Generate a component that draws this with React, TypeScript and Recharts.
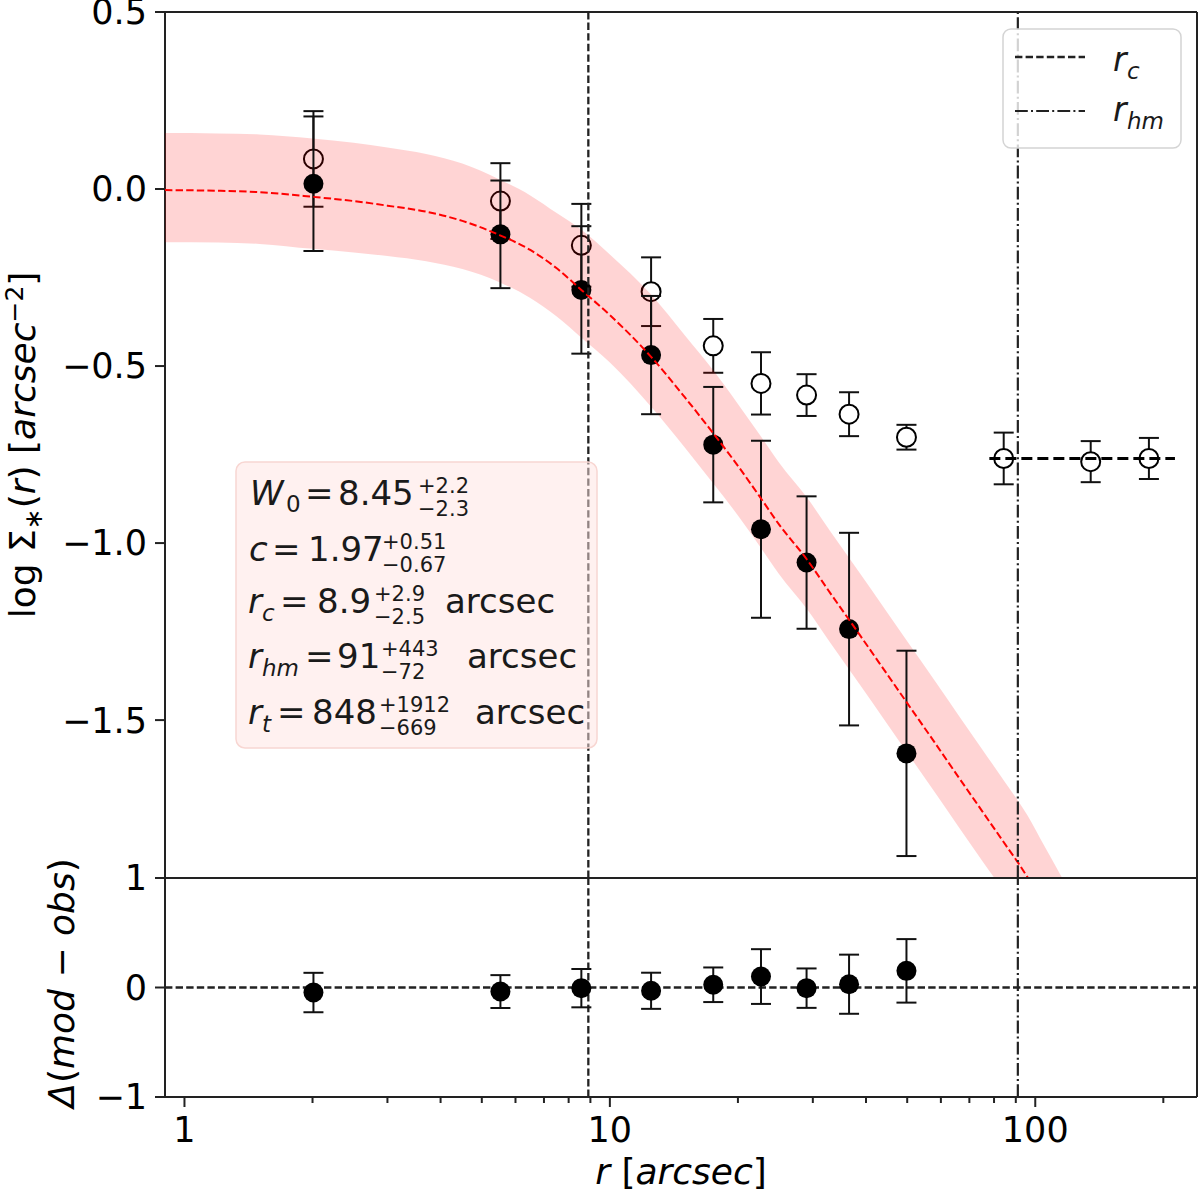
import React from "react";
import {
  ComposedChart,
  Scatter,
  ErrorBar,
  Line,
  Area,
  XAxis,
  YAxis,
  ReferenceLine,
} from "recharts";

const FONT = "'DejaVu Sans', Verdana, sans-serif";
const INK = "#222";

// binned radii [arcsec]
const radii = [2.01, 5.53, 8.57, 12.5, 17.5, 22.66, 29.0, 36.5, 49.8, 84.3, 135, 185];
// all stars (open circles)
const allLogSigma = [0.085, -0.034, -0.159, -0.29, -0.443, -0.549, -0.582, -0.636, -0.701, -0.761, -0.77, -0.761];
const allErr = [0.135, 0.107, 0.117, 0.097, 0.076, 0.088, 0.059, 0.062, 0.035, 0.073, 0.058, 0.058];
// background subtracted (filled circles)
const subLogSigma = [0.015, -0.128, -0.285, -0.469, -0.722, -0.961, -1.055, -1.243, -1.594];
const subErr = [0.19, 0.152, 0.18, 0.167, 0.163, 0.25, 0.187, 0.272, 0.29];
// residuals mod - obs
const resid = [-0.046, -0.037, -0.006, -0.03, 0.025, 0.1, -0.006, 0.03, 0.152];
const residErr = [0.18, 0.15, 0.175, 0.165, 0.158, 0.25, 0.18, 0.27, 0.29];

// best-fit model profile and its spread
const modelR = [0.9, 1.2, 1.5, 2, 2.5, 3, 3.7, 4.5, 5.5, 6.5, 7.5, 8.57, 10, 12.5, 15, 17.5, 20, 22.66, 25, 29, 33, 38.6, 44, 50, 58, 66, 75, 85, 91, 96, 105, 115, 125];
const modelLog = [-0.003, -0.005, -0.009, -0.022, -0.034, -0.047, -0.064, -0.09, -0.13, -0.172, -0.224, -0.285, -0.356, -0.474, -0.588, -0.69, -0.782, -0.874, -0.948, -1.045, -1.142, -1.258, -1.356, -1.452, -1.563, -1.661, -1.757, -1.851, -1.902, -1.945, -2.025, null, null];
const bandLow = [-0.15, -0.151, -0.155, -0.169, -0.179, -0.189, -0.204, -0.226, -0.263, -0.308, -0.36, -0.42, -0.49, -0.615, -0.73, -0.832, -0.922, -1.014, -1.088, -1.185, -1.282, -1.398, -1.496, -1.592, -1.703, -1.801, -1.897, -1.99, -2.045, -2.09, -2.17, -2.25, -2.33];
const bandHigh = [0.158, 0.157, 0.154, 0.143, 0.131, 0.117, 0.099, 0.072, 0.027, -0.018, -0.068, -0.115, -0.185, -0.298, -0.413, -0.512, -0.607, -0.699, -0.773, -0.87, -0.967, -1.083, -1.181, -1.277, -1.388, -1.486, -1.582, -1.676, -1.727, -1.77, -1.855, -1.94, -2.02];

const rc = 8.9;
const rhm = 91;
const bgLevel = -0.761;
const bgFrom = 78;
const bgTo = 213;

const xDomain = [0.9, 240];
const topDomain = [-1.946, 0.5];
const botDomain = [-1, 1];
const majorTicks = [1, 10, 100];
const xTicks = [1, 2, 3, 4, 5, 6, 7, 8, 9, 10, 20, 30, 40, 50, 60, 70, 80, 90, 100, 200];
const topYTicks = [0.5, 0, -0.5, -1, -1.5];
const botYTicks = [1, 0, -1];

const openRows = radii.map((r, i) => ({ r, y: allLogSigma[i], err: allErr[i] }));
const subRows = subLogSigma.map((y, i) => ({ r: radii[i], y, err: subErr[i] }));
const residRows = resid.map((y, i) => ({ r: radii[i], y, err: residErr[i] }));
const modelRows = modelR.map((r, i) => ({
  r,
  model: modelLog[i],
  band: [bandLow[i], bandHigh[i]],
}));

const minus = (s: string) => s.replace("-", "\u2212");

const tickStyle = { fontSize: 35, fill: "#000", fontFamily: FONT };

const FilledDot = (p: any) => <circle cx={p.cx} cy={p.cy} r={10} fill="#000" />;
const OpenDot = (p: any) => (
  <circle cx={p.cx} cy={p.cy} r={9.5} fill="#fff" stroke="#000" strokeWidth={2} />
);

const LogTick = (props: any) => {
  const { x, y, payload } = props;
  const major = majorTicks.includes(payload.value);
  return (
    <g>
      <line x1={x} x2={x} y1={y} y2={y + (major ? 10 : 6)} stroke={INK} strokeWidth={2} />
      {major && (
        <text x={x} y={y + 45} textAnchor="middle" fontSize={35} fontFamily={FONT} fill="#000">
          {payload.value}
        </text>
      )}
    </g>
  );
};

const frame = { stroke: INK, strokeWidth: 2 };

function TopPanel() {
  return (
    <ComposedChart width={1200} height={890} margin={{ top: 12, right: 3, bottom: 12, left: 0 }}>
      <XAxis
        dataKey="r"
        type="number"
        scale="log"
        domain={xDomain}
        allowDataOverflow
        ticks={xTicks}
        tick={false}
        tickLine={false}
        height={0}
        axisLine={frame}
      />
      <YAxis
        type="number"
        domain={topDomain}
        allowDataOverflow
        ticks={topYTicks}
        interval={0}
        width={165}
        tickSize={10}
        tickMargin={8}
        tick={tickStyle}
        tickFormatter={(v: number) => minus(v.toFixed(1))}
        axisLine={frame}
        tickLine={frame}
      />
      <Scatter data={openRows} dataKey="y" shape={OpenDot} isAnimationActive={false} zIndex={602}>
        <ErrorBar dataKey="err" direction="y" width={10} stroke="#111" strokeWidth={2} zIndex={601} />
      </Scatter>
      <Area
        data={modelRows}
        dataKey="band"
        type="monotone"
        fill="#ff0000"
        fillOpacity={0.17}
        stroke="none"
        isAnimationActive={false}
        zIndex={603}
      />
      <Scatter data={subRows} dataKey="y" shape={FilledDot} isAnimationActive={false} zIndex={605}>
        <ErrorBar dataKey="err" direction="y" width={10} stroke="#111" strokeWidth={2} zIndex={604} />
      </Scatter>
      <Line
        data={modelRows}
        dataKey="model"
        type="monotone"
        stroke="#ff0000"
        strokeWidth={2}
        strokeDasharray="7.4 3.2"
        dot={false}
        isAnimationActive={false}
        zIndex={660}
      />
      <ReferenceLine
        segment={[
          { x: bgFrom, y: bgLevel },
          { x: bgTo, y: bgLevel },
        ]}
        stroke="#000"
        strokeWidth={3}
        strokeDasharray="11 5"
        zIndex={700}
      />
      <ReferenceLine x={rc} stroke={INK} strokeWidth={2.3} strokeDasharray="7.4 3.2" zIndex={700} />
      <ReferenceLine x={rhm} stroke={INK} strokeWidth={2.2} strokeDasharray="12.8 3.2 2 3.2" zIndex={700} />
      <ReferenceLine y={topDomain[1]} {...frame} zIndex={710} />
      <ReferenceLine x={xDomain[1]} {...frame} zIndex={710} />
    </ComposedChart>
  );
}

function BottomPanel() {
  return (
    <ComposedChart width={1200} height={339} margin={{ top: 22, right: 3, bottom: 0, left: 0 }}>
      <XAxis
        dataKey="r"
        type="number"
        scale="log"
        domain={xDomain}
        allowDataOverflow
        ticks={xTicks}
        interval={0}
        tick={<LogTick />}
        tickSize={0}
        tickMargin={0}
        tickLine={false}
        height={98}
        axisLine={frame}
      />
      <YAxis
        type="number"
        domain={botDomain}
        allowDataOverflow
        ticks={botYTicks}
        interval={0}
        width={165}
        tickSize={10}
        tickMargin={8}
        tick={tickStyle}
        tickFormatter={(v: number) => minus(String(v))}
        axisLine={frame}
        tickLine={frame}
      />
      <ReferenceLine y={0} stroke={INK} strokeWidth={2.3} strokeDasharray="7.4 3.2" />
      <ReferenceLine x={rc} stroke={INK} strokeWidth={2.3} strokeDasharray="7.4 3.2" zIndex={700} />
      <ReferenceLine x={rhm} stroke={INK} strokeWidth={2.2} strokeDasharray="12.8 3.2 2 3.2" zIndex={700} />
      <ReferenceLine y={botDomain[1]} {...frame} zIndex={710} />
      <ReferenceLine x={xDomain[1]} {...frame} zIndex={710} />
      <Scatter data={residRows} dataKey="y" shape={FilledDot} isAnimationActive={false} zIndex={720}>
        <ErrorBar dataKey="err" direction="y" width={10} stroke="#111" strokeWidth={2} zIndex={715} />
      </Scatter>
    </ComposedChart>
  );
}

const T = ({ x, y, size = 34, it = false, children }: any) => (
  <text x={x} y={y} fontSize={size} fontStyle={it ? "italic" : "normal"} fill="#1a1a1a">
    {children}
  </text>
);

function Overlay() {
  return (
    <svg
      width={1200}
      height={1195}
      style={{ position: "absolute", left: 0, top: 0, pointerEvents: "none" }}
      fontFamily={FONT}
    >
      {/* parameter box */}
      <rect x={236} y={462} width={361} height={286} rx={9} fill="#ffe4e1" fillOpacity={0.5} stroke="#f8d6d2" strokeWidth={1.5} />
      <T x={250} y={505} it>W</T>
      <T x={286} y={512} size={23}>0</T>
      <T x={305} y={505}>=</T>
      <T x={338} y={505}>8.45</T>
      <T x={418} y={493} size={21}>+2.2</T>
      <T x={418} y={516} size={21}>−2.3</T>

      <T x={249} y={561} it>c</T>
      <T x={272} y={561}>=</T>
      <T x={308} y={561}>1.97</T>
      <T x={382} y={549} size={21}>+0.51</T>
      <T x={382} y={572} size={21}>−0.67</T>

      <T x={248} y={613} it>r</T>
      <T x={262} y={621} size={23} it>c</T>
      <T x={280} y={613}>=</T>
      <T x={317} y={613}>8.9</T>
      <T x={374} y={601} size={21}>+2.9</T>
      <T x={374} y={624} size={21}>−2.5</T>
      <T x={445} y={613}>arcsec</T>

      <T x={248} y={668} it>r</T>
      <T x={262} y={676} size={23} it>hm</T>
      <T x={305} y={668}>=</T>
      <T x={337} y={668}>91</T>
      <T x={381} y={656} size={21}>+443</T>
      <T x={381} y={679} size={21}>−72</T>
      <T x={467} y={668}>arcsec</T>

      <T x={248} y={724} it>r</T>
      <T x={262} y={732} size={23} it>t</T>
      <T x={277} y={724}>=</T>
      <T x={312} y={724}>848</T>
      <T x={379} y={712} size={21}>+1912</T>
      <T x={379} y={735} size={21}>−669</T>
      <T x={475} y={724}>arcsec</T>

      {/* legend */}
      <rect x={1003} y={29} width={178} height={119} rx={8} fill="#fff" fillOpacity={0.8} stroke="#d4d4d4" strokeWidth={1.5} />
      <line x1={1015} x2={1085} y1={57} y2={57} stroke={INK} strokeWidth={2.3} strokeDasharray="7.4 3.2" />
      <line x1={1015} x2={1085} y1={111} y2={111} stroke={INK} strokeWidth={2.2} strokeDasharray="12.8 3.2 2 3.2" />
      <T x={1113} y={71} size={33} it>r</T>
      <T x={1127} y={79} size={23} it>c</T>
      <T x={1113} y={121} size={33} it>r</T>
      <T x={1127} y={129} size={23} it>hm</T>

      {/* axis labels */}
      <text transform="translate(35,445) rotate(-90)" textAnchor="middle" fontSize={36} fill="#000">
        <tspan>log Σ</tspan>
        <tspan fontSize={25} dy={7}>∗</tspan>
        <tspan dy={-7}>(</tspan>
        <tspan fontStyle="italic">r</tspan>
        <tspan>) [</tspan>
        <tspan fontStyle="italic">arcsec</tspan>
        <tspan fontSize={25} dy={-12}>−2</tspan>
        <tspan dy={12}>]</tspan>
      </text>
      <text transform="translate(74,983) rotate(-90)" textAnchor="middle" fontSize={36} fill="#000">
        <tspan fontStyle="italic">Δ</tspan>
        <tspan>(</tspan>
        <tspan fontStyle="italic">mod</tspan>
        <tspan> − </tspan>
        <tspan fontStyle="italic">obs</tspan>
        <tspan>)</tspan>
      </text>
      <text x={681} y={1184} textAnchor="middle" fontSize={36} fill="#000">
        <tspan fontStyle="italic">r</tspan>
        <tspan> [</tspan>
        <tspan fontStyle="italic">arcsec</tspan>
        <tspan>]</tspan>
      </text>
    </svg>
  );
}

export default function App() {
  return (
    <div style={{ position: "absolute", left: 0, top: 0, width: 1200, height: 1195, background: "#fff", fontFamily: FONT }}>
      <div style={{ position: "absolute", left: 0, top: 0 }}>
        <TopPanel />
      </div>
      <div style={{ position: "absolute", left: 0, top: 856 }}>
        <BottomPanel />
      </div>
      <Overlay />
    </div>
  );
}
